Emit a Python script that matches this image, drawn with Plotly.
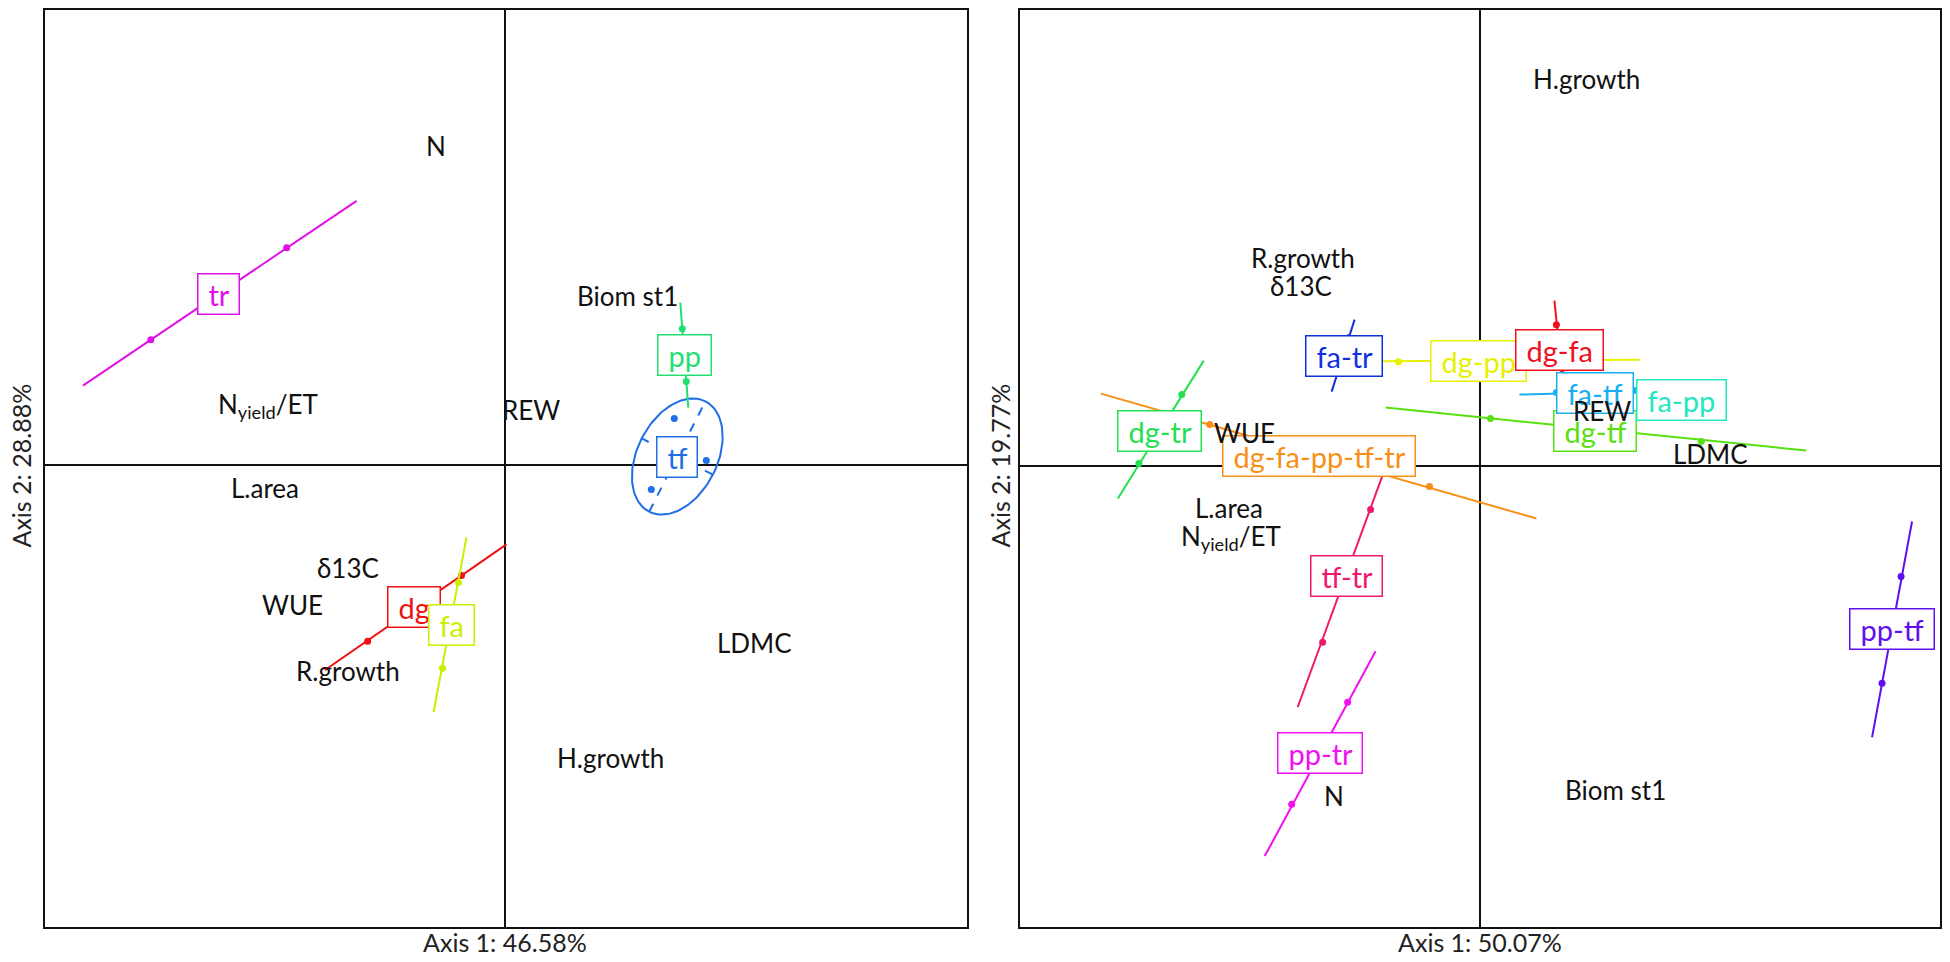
import numpy as np
import plotly.graph_objects as go

# ---- left panel (Axis 1: 46.58%, Axis 2: 28.88%) ----
L_TRAITS = ["N", "N<sub>yield</sub>/ET", "Biom st1", "REW", "L.area", "δ13C",
            "WUE", "R.growth", "LDMC", "H.growth"]
L_TRAIT_X = [-0.70, -2.38, 1.22, 0.26, -2.41, -1.58, -2.13, -1.58, 2.49, 1.05]
L_TRAIT_Y = [3.19, 0.59, 1.69, 0.55, -0.24, -1.04, -1.41, -2.07, -1.79, -2.94]

L_GROUPS = ["tr", "pp", "dg", "fa"]
L_COLORS = ["#e010e8", "#22e070", "#f01010", "#c8f000"]
L_CX = [-2.87, 1.79, -0.92, -0.54]
L_CY = [1.71, 1.10, -1.43, -1.61]
L_DOT_X = [[-3.55, -2.19], [1.77, 1.81], [-1.38, -0.44], [-0.47, -0.63]]
L_DOT_Y = [[1.25, 2.17], [1.36, 0.83], [-1.77, -1.11], [-1.18, -2.04]]
L_END_X = [[-4.23, -1.49], [1.75, 1.83], [-1.81, 0.01], [-0.39, -0.72]]
L_END_Y = [[0.79, 2.64], [1.62, 0.57], [-2.06, -0.80], [-0.73, -2.48]]

# tf group: three points and its ellipse
TF_COLOR = "#1f6fe6"
TF_CX, TF_CY = 1.72, 0.08
TF_DOT_X = [1.69, 2.01, 1.46]
TF_DOT_Y = [0.46, 0.04, -0.25]
TF_A, TF_B, TF_ANGLE = 0.62, 0.40, 63.0

# ---- right panel (Axis 1: 50.07%, Axis 2: 19.77%) ----
R_TRAITS = ["H.growth", "R.growth", "δ13C", "WUE", "REW", "LDMC", "L.area",
            "N<sub>yield</sub>/ET", "N", "Biom st1"]
R_TRAIT_X = [1.06, -1.78, -1.80, -2.36, 1.22, 2.30, -2.52, -2.50, -1.47, 1.35]
R_TRAIT_Y = [3.87, 2.08, 1.80, 0.33, 0.55, 0.12, -0.43, -0.72, -3.31, -3.25]

R_GROUPS = ["dg-tr", "dg-fa-pp-tf-tr", "tf-tr", "pp-tr", "pp-tf", "fa-tr",
            "dg-pp", "dg-fa", "dg-tf", "fa-tf", "fa-pp"]
R_COLORS = ["#22e050", "#f89018", "#f0186c", "#f010f0", "#6010f0", "#1030e0",
            "#e6f000", "#f01020", "#58e010", "#18b0f0", "#22e8c0"]
R_CX = [-3.21, -1.62, -1.34, -1.61, 4.12, -1.37, -0.02, 0.79, 1.15, 1.15, 2.01]
R_CY = [0.35, 0.10, -1.11, -2.88, -1.64, 1.10, 1.05, 1.16, 0.35, 0.73, 0.66]
R_DOT_X = [[-2.99, -3.42], [-2.71, -0.51], [-1.10, -1.58], [-1.33, -1.89],
           [4.21, 4.02], [-1.32, -1.43], [-0.82, 0.78], [0.76, 0.82],
           [0.10, 2.21], [0.76, 1.54], [1.89, 2.13]]
R_DOT_Y = [[0.71, 0.02], [0.41, -0.21], [-0.44, -1.77], [-2.37, -3.39],
           [-1.11, -2.18], [1.28, 0.92], [1.04, 1.06], [1.41, 0.91],
           [0.47, 0.24], [0.73, 0.75], [0.65, 0.67]]
R_END_X = [[-2.77, -3.63], [-3.80, 0.56], [-0.86, -1.83], [-1.05, -2.16],
           [4.32, 3.92], [-1.26, -1.49], [-1.62, 1.60], [0.74, 0.84],
           [-0.95, 3.26], [0.39, 1.91], [1.77, 2.25]]
R_END_Y = [[1.05, -0.33], [0.72, -0.53], [0.23, -2.42], [-1.86, -3.91],
           [-0.56, -2.72], [1.46, 0.74], [1.04, 1.06], [1.65, 0.67],
           [0.58, 0.15], [0.71, 0.75], [0.64, 0.68]]

AXIS_TITLES = ["Axis 1: 46.58%", "Axis 2: 28.88%", "Axis 1: 50.07%", "Axis 2: 19.77%"]

FONT = "Lato"
LABEL_SIZE = 26
BOX_SIZE = 29

# page body has an 8px margin, so the figure is sized to fit inside it
OFF = 8
W, H = 1950 - 2 * OFF, 962 - 2 * OFF


def fx(px):
    return (px - OFF) / W


def fy(py):
    return 1 - (py - OFF) / H


fig = go.Figure()
annotations = []


def add_group(xa, ya, color, dx, dy, ex, ey):
    fig.add_trace(go.Scatter(x=ex, y=ey, xaxis=xa, yaxis=ya, mode="lines",
                             line=dict(color=color, width=2), hoverinfo="skip"))
    fig.add_trace(go.Scatter(x=dx, y=dy, xaxis=xa, yaxis=ya, mode="markers",
                             marker=dict(color=color, size=7), hoverinfo="skip"))


def box_label(xa, ya, name, color, cx, cy):
    annotations.append(dict(
        x=cx, y=cy, xref=xa, yref=ya, text="\u00a0" + name + "\u00a0", showarrow=False,
        xanchor="center", yanchor="middle", height=34,
        font=dict(family=FONT, size=BOX_SIZE, color=color),
        bgcolor="white", bordercolor=color, borderwidth=1.5, borderpad=2.5))


# left panel
t = np.linspace(0, 2 * np.pi, 120)
ang = np.deg2rad(TF_ANGLE)
ex = TF_CX + TF_A * np.cos(t) * np.cos(ang) - TF_B * np.sin(t) * np.sin(ang)
ey = TF_CY + TF_A * np.cos(t) * np.sin(ang) + TF_B * np.sin(t) * np.cos(ang)
fig.add_trace(go.Scatter(x=ex, y=ey, xaxis="x", yaxis="y", mode="lines",
                         line=dict(color=TF_COLOR, width=2), hoverinfo="skip"))
for ax_len, a in [(TF_A, ang), (TF_B, ang + np.pi / 2)]:
    fig.add_trace(go.Scatter(
        x=[TF_CX - ax_len * np.cos(a), TF_CX + ax_len * np.cos(a)],
        y=[TF_CY - ax_len * np.sin(a), TF_CY + ax_len * np.sin(a)],
        xaxis="x", yaxis="y", mode="lines",
        line=dict(color=TF_COLOR, width=2, dash="dash"), hoverinfo="skip"))
fig.add_trace(go.Scatter(x=TF_DOT_X, y=TF_DOT_Y, xaxis="x", yaxis="y", mode="markers",
                         marker=dict(color=TF_COLOR, size=7), hoverinfo="skip"))

for i in range(len(L_GROUPS)):
    add_group("x", "y", L_COLORS[i], L_DOT_X[i], L_DOT_Y[i], L_END_X[i], L_END_Y[i])
box_label("x", "y", "tf", TF_COLOR, TF_CX, TF_CY)
for i, g in enumerate(L_GROUPS):
    box_label("x", "y", g, L_COLORS[i], L_CX[i], L_CY[i])

# right panel
for i in range(len(R_GROUPS)):
    add_group("x2", "y2", R_COLORS[i], R_DOT_X[i], R_DOT_Y[i], R_END_X[i], R_END_Y[i])
for i, g in enumerate(R_GROUPS):
    box_label("x2", "y2", g, R_COLORS[i], R_CX[i], R_CY[i])

# trait labels (black)
for xa, ya, names, xs, ys in [("x", "y", L_TRAITS, L_TRAIT_X, L_TRAIT_Y),
                              ("x2", "y2", R_TRAITS, R_TRAIT_X, R_TRAIT_Y)]:
    for n, x, y in zip(names, xs, ys):
        annotations.append(dict(x=x, y=y, xref=xa, yref=ya, text=n, showarrow=False,
                                xanchor="center", yanchor="middle",
                                font=dict(family=FONT, size=LABEL_SIZE, color="#111")))

# axis titles (box kept tight so it stays inside the page)
title_font = dict(family=FONT, size=25, color="#222")
for text, px, py, angle in [(AXIS_TITLES[0], 506, 942, 0), (AXIS_TITLES[1], 21, 465, -90),
                            (AXIS_TITLES[2], 1482, 942, 0), (AXIS_TITLES[3], 1001, 465, -90)]:
    annotations.append(dict(x=fx(px), y=fy(py), xref="paper", yref="paper", text=text,
                            showarrow=False, textangle=angle, xanchor="center",
                            yanchor="middle", height=22, font=title_font))

axis_style = dict(showgrid=False, showticklabels=False, ticks="", zeroline=True,
                  zerolinecolor="#111", zerolinewidth=1.5, showline=True,
                  linecolor="#111", linewidth=2, mirror=True, fixedrange=True)

TOP = 9  # frame top on the page
fig.update_layout(
    width=W, height=H, margin=dict(l=0, r=0, t=0, b=0),
    paper_bgcolor="white", plot_bgcolor="white", showlegend=False,
    xaxis=dict(domain=[fx(45), fx(968)], range=[-4.61, 4.62], anchor="y", **axis_style),
    yaxis=dict(domain=[fy(927), fy(TOP)], range=[-4.63, 4.55], anchor="x", **axis_style),
    xaxis2=dict(domain=[fx(1021), fx(1942)], range=[-4.61, 4.60], anchor="y2", **axis_style),
    yaxis2=dict(domain=[fy(927), fy(TOP)], range=[-4.62, 4.56], anchor="x2", **axis_style),
    annotations=annotations,
)

fig.write_html("out.html")
